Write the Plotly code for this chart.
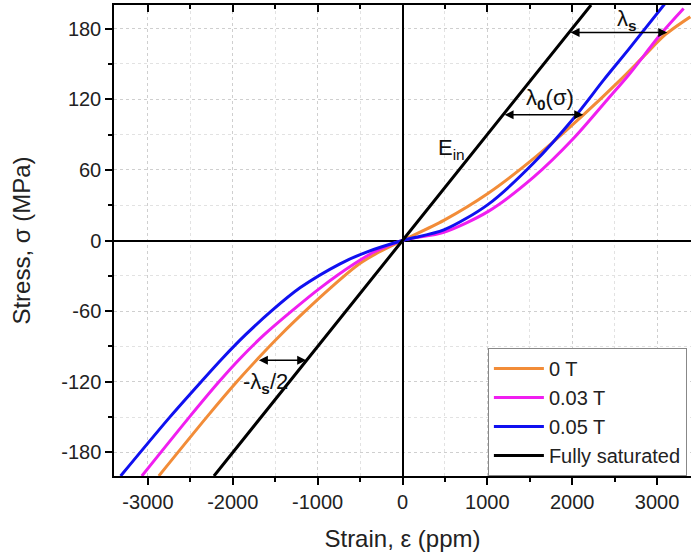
import plotly.graph_objects as go

# ---- data ----
strain_0T = [-2872, -2307, -1953, -1701, -1434, -1147, -844, -512, -281, 0,
             487, 1006, 1548, 2119, 2571, 2850, 3100, 3392]
stress_0T = [-200, -150, -120, -100, -80, -60, -40, -20, -10, 0,
             17.1, 39.9, 69.7, 105.8, 136.6, 157, 175, 190]

strain_003T = [-3072, -2512, -2163, -1911, -1629, -1307, -964, -572, -341, 0,
               487, 1006, 1548, 2020, 2413, 2665, 3058, 3313]
stress_003T = [-200, -150, -120, -100, -80, -60, -40, -20, -10, 0,
               7.0, 24.5, 54.0, 87.0, 119.5, 140.5, 176.6, 197.1]

strain_005T = [-3322, -2742, -2373, -2121, -1849, -1547, -1204, -742, -431, 0,
               487, 1006, 1548, 2020, 2374, 2665, 3089]
stress_005T = [-200, -150, -120, -100, -80, -60, -40, -20, -10, 0,
               9.0, 30.5, 66.0, 104.0, 136.6, 162.3, 200.8]

strain_sat = [-2222, 0, 2222]
stress_sat = [-200, 0, 200]

series_names = ["0 T", "0.03 T", "0.05 T", "Fully saturated"]
series_colors = ["#F28C38", "#F01EF0", "#1010F0", "#000000"]

x_ticks = [-3000, -2000, -1000, 0, 1000, 2000, 3000]
x_ticktext = ["-3000", "-2000", "-1000", "0", "1000", "2000", "3000"]
y_ticks = [-180, -120, -60, 0, 60, 120, 180]
y_ticktext = ["-180", "-120", "-60", "0", "60", "120", "180"]

FONT = "Liberation Sans, Arial, sans-serif"

fig = go.Figure()
for xs, ys, name, col in zip(
        [strain_0T, strain_003T, strain_005T, strain_sat],
        [stress_0T, stress_003T, stress_005T, stress_sat],
        series_names, series_colors):
    fig.add_trace(go.Scatter(x=xs, y=ys, mode="lines", name=name,
                             line=dict(color=col, width=3, shape="spline", smoothing=0.8)))

# invisible trace on top axis for inward mirror ticks
fig.add_trace(go.Scatter(x=[0], y=[0], xaxis="x2", mode="markers",
                         marker=dict(opacity=0), showlegend=False, hoverinfo="skip"))

grid = dict(gridcolor="#cfcfcf", griddash="dot", gridwidth=1)

fig.update_layout(
    width=691, height=557,
    margin=dict(l=114, r=0, t=5, b=81),
    paper_bgcolor="white", plot_bgcolor="white",
    font=dict(family=FONT, size=20, color="#222"),
    xaxis=dict(range=[-3400, 3400], tickvals=x_ticks, ticktext=x_ticktext,
               ticks="outside", ticklen=7, tickwidth=1.5, tickcolor="black",
               showline=True, linecolor="black", linewidth=1.5, automargin=False,
               zeroline=True, zerolinecolor="black", zerolinewidth=1.5,
               minor=dict(dtick=500, ticks="outside", ticklen=4, tickcolor="black",
                          showgrid=True, gridcolor="#e2e2e2", griddash="dot"),
               title=dict(text="Strain, ε (ppm)", font=dict(size=24), standoff=18),
               tickfont=dict(size=20), **grid),
    xaxis2=dict(range=[-3400, 3400], overlaying="x", side="top", anchor="y",
                tickvals=x_ticks, ticks="inside", ticklen=7, tickwidth=1.5, tickcolor="black",
                showticklabels=False, showline=True, linecolor="black", linewidth=1.5,
                showgrid=False, zeroline=False, automargin=False,
                minor=dict(dtick=500, ticks="inside", ticklen=4, tickcolor="black")),
    yaxis=dict(range=[-200, 200], tickvals=y_ticks, ticktext=y_ticktext,
               ticks="outside", ticklen=7, tickwidth=1.5, tickcolor="black",
               showline=True, linecolor="black", linewidth=1.5, automargin=False,
               zeroline=True, zerolinecolor="black", zerolinewidth=1.5,
               minor=dict(dtick=30, ticks="outside", ticklen=4, tickcolor="black",
                          showgrid=True, gridcolor="#e2e2e2", griddash="dot"),
               title=dict(text="Stress, σ (MPa)", font=dict(size=24), standoff=24),
               tickfont=dict(size=20), **grid),
    legend=dict(x=0.648, y=0.272, xanchor="left", yanchor="top",
                bgcolor="white", bordercolor="#888", borderwidth=1,
                font=dict(size=20), itemwidth=50, tracegroupgap=0),
    showlegend=True,
)

# double-headed arrows
def dbl_arrow(x0, x1, y):
    fig.add_annotation(x=x1, y=y, ax=x0, ay=y, xref="x", yref="y", axref="x", ayref="y",
                       text="", showarrow=True, arrowhead=2, arrowside="end+start",
                       arrowsize=1.2, arrowwidth=1.5, arrowcolor="black")

dbl_arrow(1963, 3120, 176.7)
dbl_arrow(1185, 2130, 106.7)
dbl_arrow(-1710, -1135, -101.6)

def label(x, y, t):
    fig.add_annotation(x=x, y=y, xref="x", yref="y", text=t, showarrow=False,
                       font=dict(size=22, color="#111", family=FONT))

label(2640, 187, "λ<sub><b>s</b></sub>")
label(1733, 120, "λ<sub><b>0</b></sub>(σ)")
label(580, 78, "E<sub>in</sub>")
label(-1620, -121, "-λ<sub><b>s</b></sub>/2")

fig.write_html("out.html", config={"displayModeBar": False},
               post_script="document.body.style.margin='0';")
